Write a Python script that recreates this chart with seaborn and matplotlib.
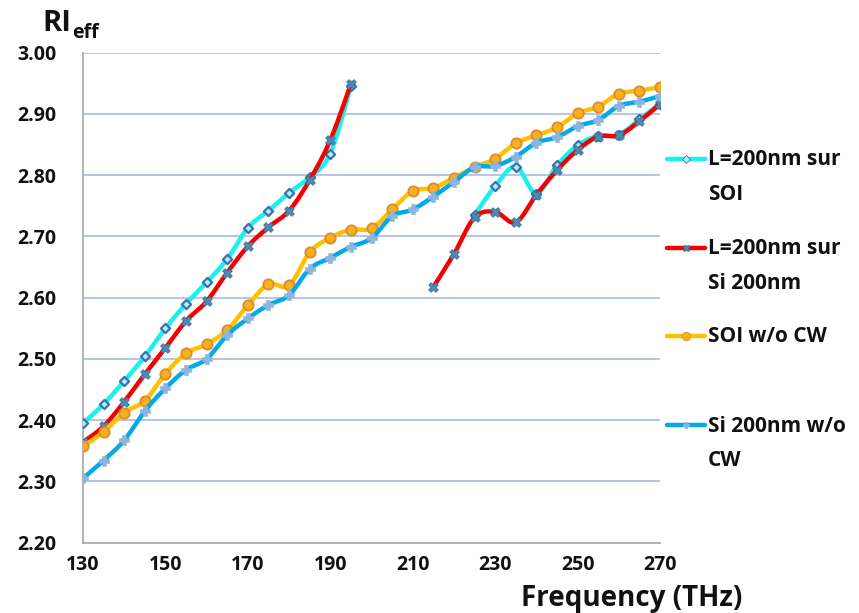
import numpy as np
import pandas as pd
import matplotlib
matplotlib.use("Agg")
import matplotlib.pyplot as plt
from matplotlib.lines import Line2D
from matplotlib.ticker import MultipleLocator, FixedLocator
import seaborn as sns

# ---- data -----------------------------------------------------------------
freq = list(range(130, 275, 5))  # THz, 130 ... 270
nan = np.nan

l200_soi = [2.395, 2.426, 2.464, 2.504, 2.550, 2.590, 2.625, 2.663, 2.714, 2.742,
            2.771, 2.797, 2.835, 2.946, nan, nan, nan, nan, nan, 2.735,
            2.782, 2.814, 2.770, 2.816, 2.849, 2.864, 2.866, 2.891, 2.917]
l200_si = [2.364, 2.390, 2.430, 2.475, 2.518, 2.562, 2.594, 2.641, 2.684, 2.715,
           2.742, 2.792, 2.857, 2.949, nan, nan, nan, 2.617, 2.671, 2.731,
           2.740, 2.723, 2.768, 2.808, 2.841, 2.863, 2.865, 2.888, 2.916]
soi_nocw = [2.357, 2.381, 2.412, 2.432, 2.476, 2.509, 2.524, 2.547, 2.588, 2.622,
            2.620, 2.674, 2.698, 2.711, 2.713, 2.744, 2.774, 2.779, 2.796, 2.813,
            2.827, 2.852, 2.865, 2.878, 2.901, 2.912, 2.933, 2.938, 2.944]
si_nocw = [2.305, 2.334, 2.367, 2.415, 2.452, 2.482, 2.500, 2.539, 2.566, 2.588,
           2.604, 2.647, 2.665, 2.683, 2.697, 2.733, 2.744, 2.765, 2.789, 2.813,
           2.815, 2.830, 2.853, 2.862, 2.880, 2.890, 2.913, 2.920, 2.929]

series_labels = ["L=200nm sur\nSOI", "L=200nm sur\nSi 200nm", "SOI w/o CW", "Si 200nm w/o\nCW"]
x_ticklabels = ["130", "150", "170", "190", "210", "230", "250", "270"]
y_ticks = [2.20, 2.30, 2.40, 2.50, 2.60, 2.70, 2.80, 2.90, 3.00]

df = pd.DataFrame({"freq": freq, series_labels[0]: l200_soi, series_labels[1]: l200_si,
                   series_labels[2]: soi_nocw, series_labels[3]: si_nocw})

styles = {
    series_labels[0]: dict(color="#19f0f0", marker="D", ms=22, mfc="#a8f4f8", mec="#3d6fb2", mew=1.6,
                           leg_ms=4),
    series_labels[1]: dict(color="#f40000", marker="X", ms=48, mfc="#4a8db3", mec="#3e6f98", mew=0.6,
                           leg_ms=5),
    series_labels[2]: dict(color="#ffc000", marker="o", ms=55, mfc="#f7b21a", mec="#de8a30", mew=1.3,
                           leg_ms=6),
    series_labels[3]: dict(color="#05a9e8", marker="P", ms=50, mfc="#8db5de", mec="#8db5de", mew=0.4,
                           leg_ms=5),
}


def smooth_path(x, y, n=16):
    """Smooth (Bezier) curve through consecutive points, like a spreadsheet 'smoothed line'."""
    x = np.asarray(x, float)
    y = np.asarray(y, float)
    if len(x) < 3:
        return x, y
    px = np.concatenate([[x[0]], x, [x[-1]]])
    py = np.concatenate([[y[0]], y, [y[-1]]])
    t = np.linspace(0, 1, n, endpoint=False)[:, None]
    out = []
    for i in range(1, len(px) - 2):
        p0 = np.array([px[i - 1], py[i - 1]])
        p1 = np.array([px[i], py[i]])
        p2 = np.array([px[i + 1], py[i + 1]])
        p3 = np.array([px[i + 2], py[i + 2]])
        c1 = p1 + (p2 - p0) / 6.0
        c2 = p2 - (p3 - p1) / 6.0
        seg = ((1 - t) ** 3) * p1 + 3 * ((1 - t) ** 2) * t * c1 + 3 * (1 - t) * t ** 2 * c2 + t ** 3 * p2
        out.append(seg)
    out.append(np.array([[x[-1], y[-1]]]))
    out = np.vstack(out)
    return out[:, 0], out[:, 1]


def segments(x, y):
    """Split a series at its gaps (NaN values) into contiguous runs."""
    x = np.asarray(x, float)
    y = np.asarray(y, float)
    segs, cur = [], []
    for xi, yi in zip(x, y):
        if not np.isnan(yi):
            cur.append((xi, yi))
        elif cur:
            segs.append(cur)
            cur = []
    if cur:
        segs.append(cur)
    return [(np.array([p[0] for p in s]), np.array([p[1] for p in s])) for s in segs]


# ---- figure ---------------------------------------------------------------
sns.set_theme(style="white")
FONT = ["Open Sans", "DejaVu Sans"]
plt.rcParams["font.family"] = FONT
plt.rcParams["font.weight"] = "bold"
TXT = "#111111"

W, H = 859, 613
fig = plt.figure(figsize=(W / 100, H / 100), dpi=100)
ax = fig.add_axes([83 / W, 1 - 542.6 / H, (660 - 83) / W, (542.6 - 52.7) / H])

for z, name in enumerate(series_labels):
    st = styles[name]
    for sx, sy in segments(df["freq"], df[name]):
        cx, cy = smooth_path(sx, sy)
        sns.lineplot(x=cx, y=cy, sort=False, estimator=None, color=st["color"], lw=3.2,
                     ax=ax, zorder=3 + 2 * z, legend=False)
        sns.scatterplot(x=sx, y=sy, marker=st["marker"], s=st["ms"], color=st["mfc"],
                        edgecolor=st["mec"], linewidth=st["mew"], ax=ax, zorder=4 + 2 * z,
                        legend=False)

ax.set_xlim(130, 270)
ax.set_ylim(2.20, 3.00)
ax.set_yticks(y_ticks)
ax.set_yticklabels([f"{v:.2f}" for v in y_ticks])
ax.xaxis.set_major_locator(FixedLocator([int(s) for s in x_ticklabels]))
ax.set_xticklabels(x_ticklabels)
ax.xaxis.set_minor_locator(MultipleLocator(10))

for v in y_ticks[1:]:
    ax.axhline(v, color="#b0c0e4", lw=1.3, zorder=1)

for s in ["top", "right"]:
    ax.spines[s].set_visible(False)
for s in ["left", "bottom"]:
    ax.spines[s].set_color("#a6a6a6")
    ax.spines[s].set_linewidth(1.2)

ax.tick_params(axis="y", length=0, pad=19, labelsize=14, labelcolor=TXT)
ax.tick_params(axis="x", which="both", direction="in", length=7, width=1, color="#a6a6a6",
               pad=9, labelsize=14, labelcolor=TXT)
ax.set_xlabel("")
ax.set_ylabel("")
for lab in ax.get_xticklabels() + ax.get_yticklabels():
    lab.set_fontweight("bold")

# axis titles
renderer = fig.canvas.get_renderer()
ri = fig.text(42 / W, 1 - 31 / H, "RI", fontsize=21, fontweight="bold", color=TXT,
              ha="left", va="baseline")
ri_box = ri.get_window_extent(renderer)
fig.text(ri_box.x1 / W + 1 / W, 1 - 38 / H, "eff", fontsize=14, fontweight="bold", color=TXT,
         ha="left", va="baseline")
fig.text(742 / W, 1 - 606 / H, "Frequency (THz)", fontsize=20, fontweight="bold",
         color=TXT, ha="right", va="baseline")

# legend, each entry anchored at its first text line
leg_y = [158.5, 247.5, 336, 425]
for name, yy in zip(series_labels, leg_y):
    st = styles[name]
    fy = 1 - yy / H
    fig.add_artist(Line2D([667 / W, 705 / W], [fy, fy], color=st["color"], lw=3.2,
                          transform=fig.transFigure))
    fig.add_artist(Line2D([686 / W], [fy], marker=st["marker"], ms=st["leg_ms"],
                          mfc=st["mfc"], mec=st["mec"], mew=0.6, ls="none",
                          transform=fig.transFigure))
    for k, line in enumerate(name.split("\n")):
        fig.text(708 / W, 1 - (yy + 1 + 35 * k) / H, line, fontsize=15, fontweight="bold",
                 color=TXT, ha="left", va="center")

fig.savefig("out.png", dpi=100, facecolor="white")
